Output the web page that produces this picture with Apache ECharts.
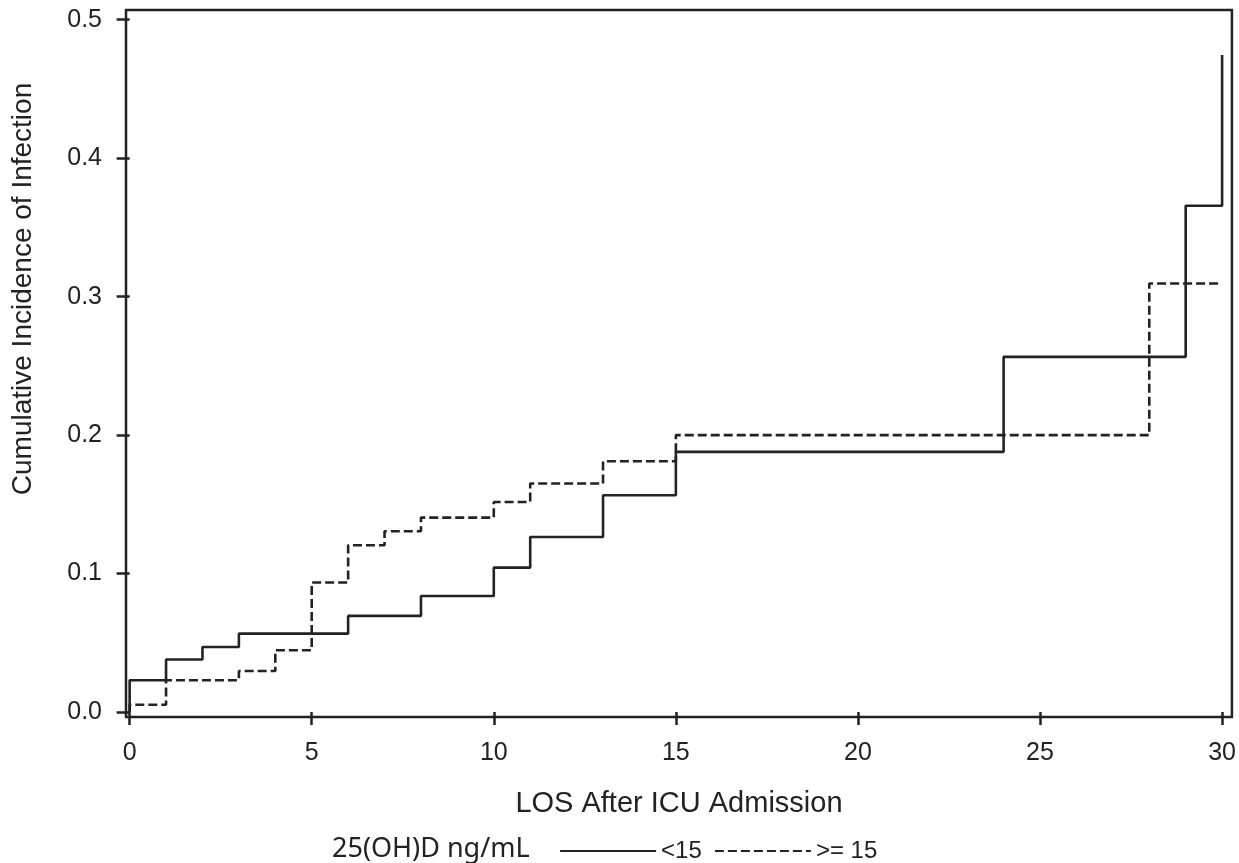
<!DOCTYPE html>
<html>
<head>
<meta charset="utf-8">
<script src="https://cdn.jsdelivr.net/npm/echarts@6/dist/echarts.min.js"></script>
<style>
    html, body { margin: 0; padding: 0; background: #fff; }
    #chart { width: 1239px; height: 863px; }
</style>
</head>
<body>
<div id="chart"></div>
<script>
// step points: [day, cumulative incidence] taken at each jump
var lowGroup = [
    [0, 0], [0, 0.0229], [1, 0.0379], [2, 0.047], [3, 0.0566], [6, 0.0694],
    [8, 0.0838], [10, 0.1043], [11, 0.1264], [13, 0.1566], [15, 0.1879],
    [24, 0.2565], [29, 0.3656], [30, 0.4745]
];
var highGroup = [
    [0, 0], [0, 0.0053], [1, 0.0229], [3, 0.0296], [4, 0.0446], [5, 0.0935],
    [6, 0.1204], [7, 0.1306], [8, 0.1404], [10, 0.1517], [11, 0.165],
    [13, 0.1811], [15, 0.2], [28, 0.3095], [30, 0.3095]
];
var xTicks = [0, 5, 10, 15, 20, 25, 30];
var yTicks = [0, 0.1, 0.2, 0.3, 0.4, 0.5];
var seriesNames = ['<15', '>= 15'];

var ink = '#222';
var chart = echarts.init(document.getElementById('chart'));

var option = {
    animation: false,
    grid: {
        left: 126,
        right: 5,
        top: 10,
        bottom: 146,
        show: true,
        borderColor: ink,
        borderWidth: 2.5,
        backgroundColor: '#fff'
    },
    xAxis: {
        type: 'value',
        min: -0.1,
        max: 30.27,
        name: 'LOS After ICU Admission',
        nameLocation: 'middle',
        nameGap: 72,
        nameTextStyle: {
            fontFamily: 'Liberation Sans',
            fontSize: 29,
            color: ink,
            verticalAlign: 'top'
        },
        splitLine: { show: false },
        axisLine: { show: false },
        axisTick: {
            show: true,
            length: 13,
            customValues: xTicks,
            lineStyle: { color: ink, width: 2.5 }
        },
        axisLabel: {
            customValues: xTicks,
            margin: 24,
            fontFamily: 'Liberation Sans',
            fontSize: 25,
            color: ink
        }
    },
    yAxis: {
        type: 'value',
        min: -0.0036,
        max: 0.507,
        splitLine: { show: false },
        axisLine: { show: false },
        axisTick: {
            show: true,
            length: 13,
            customValues: yTicks,
            lineStyle: { color: ink, width: 2.5 }
        },
        axisLabel: {
            customValues: yTicks,
            margin: 24,
            fontFamily: 'Liberation Sans',
            fontSize: 25,
            color: ink,
            formatter: function (v) { return v.toFixed(1); }
        }
    },
    legend: {
        left: 554,
        top: 834,
        itemWidth: 96,
        itemHeight: 14,
        itemGap: 12,
        data: seriesNames,
        itemStyle: { opacity: 0 },
        lineStyle: { width: 2.2 },
        textStyle: {
            fontFamily: 'Liberation Sans',
            fontSize: 24,
            color: ink
        }
    },
    graphic: [
        {
            type: 'text',
            left: 332,
            top: 836,
            style: {
                text: '25(OH)D ng/mL',
                fontFamily: 'Noto Sans',
                fontSize: 27,
                fill: ink
            }
        },
        {
            type: 'text',
            x: 23,
            y: 289,
            rotation: Math.PI / 2,
            style: {
                text: 'Cumulative Incidence of Infection',
                fontFamily: 'Liberation Sans',
                fontSize: 28,
                fill: ink,
                align: 'center',
                verticalAlign: 'middle'
            }
        }
    ],
    series: [
        {
            name: seriesNames[0],
            type: 'line',
            step: 'end',
            symbol: 'none',
            data: lowGroup,
            lineStyle: { color: ink, width: 2.6, type: 'solid' },
            itemStyle: { color: ink }
        },
        {
            name: seriesNames[1],
            type: 'line',
            step: 'end',
            symbol: 'none',
            data: highGroup,
            lineStyle: { color: ink, width: 2.6, type: [9, 4] },
            itemStyle: { color: ink }
        }
    ]
};
option && chart.setOption(option);
</script>
</body>
</html>
